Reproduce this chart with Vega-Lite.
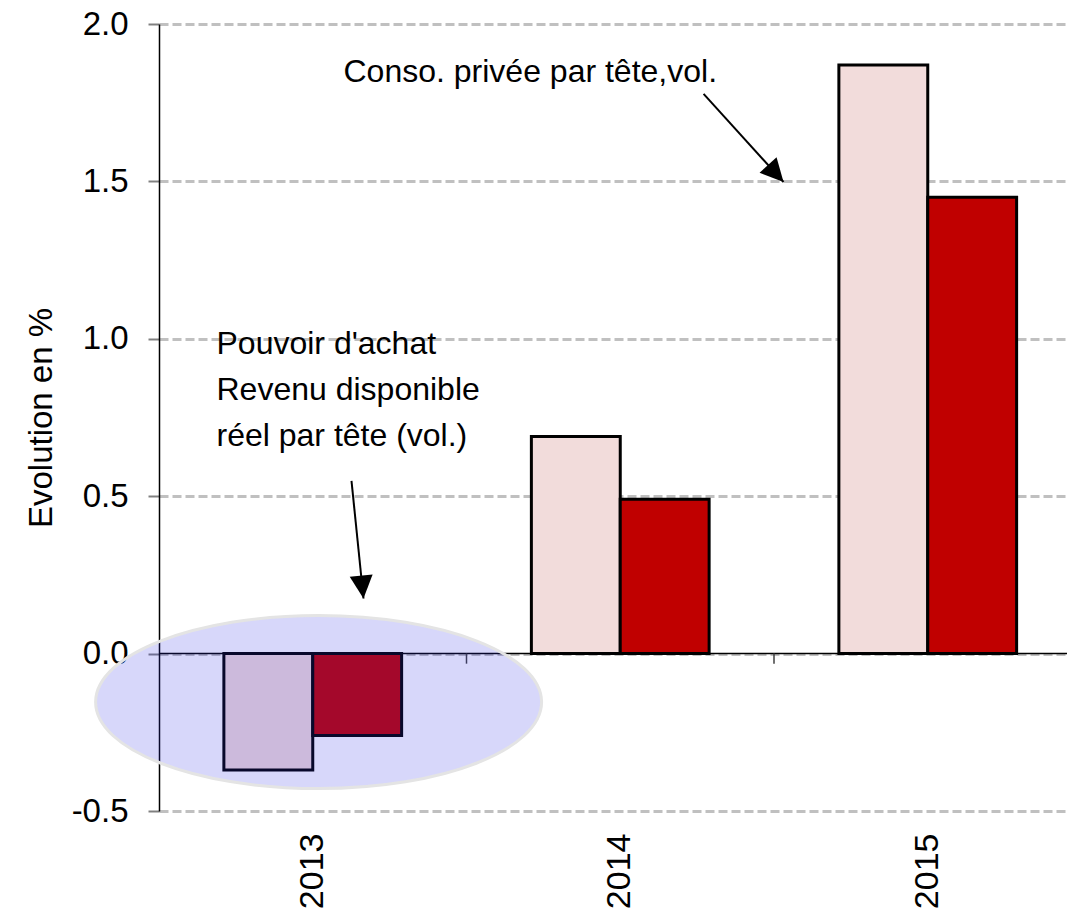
{
  "$schema": "https://vega.github.io/schema/vega-lite/v6.json",
  "width": 908,
  "height": 787,
  "padding": {"left": 25, "top": 8, "right": 0, "bottom": 0},
  "background": "white",
  "config": {"view": {"stroke": null}, "font": "Liberation Sans"},
  "datasets": {
    "bars": [
      {"year": "2013", "series": "Conso. privée par tête, vol.", "value": -0.37},
      {"year": "2013", "series": "Pouvoir d'achat", "value": -0.26},
      {"year": "2014", "series": "Conso. privée par tête, vol.", "value": 0.69},
      {"year": "2014", "series": "Pouvoir d'achat", "value": 0.49},
      {"year": "2015", "series": "Conso. privée par tête, vol.", "value": 1.87},
      {"year": "2015", "series": "Pouvoir d'achat", "value": 1.45}
    ],
    "zero": [{"value": 0}],
    "bandticks": [
      {"u": 1, "value": 0, "value2": -0.032},
      {"u": 2, "value": 0, "value2": -0.032}
    ],
    "ellipse": [{"u": 0.519, "value": -0.154}],
    "arrows": [
      {"u": 0.626, "value": 0.549, "u2": 0.665, "value2": 0.175, "angle": 174.2},
      {"u": 1.771, "value": 1.778, "u2": 2.031, "value2": 1.498, "angle": 137.7}
    ],
    "labels": [
      {"u": 0.187, "value": 0.952, "label": "Pouvoir d'achat"},
      {"u": 0.187, "value": 0.806, "label": "Revenu disponible"},
      {"u": 0.187, "value": 0.660, "label": "réel par tête (vol.)"},
      {"u": 0.600, "value": 1.816, "label": "Conso. privée par tête,vol."}
    ]
  },
  "encoding": {
    "y": {
      "field": "value",
      "type": "quantitative",
      "scale": {"domain": [-0.5, 2.0], "nice": false, "zero": false},
      "axis": {
        "title": "Evolution en %",
        "titleFontSize": 33,
        "titleFontWeight": "normal",
        "titleColor": "black",
        "titlePadding": 13,
        "values": [-0.5, 0, 0.5, 1, 1.5, 2],
        "labelExpr": "datum.value < 0 ? '-' + format(-datum.value, '.1f') : format(datum.value, '.1f')",
        "labelFontSize": 33,
        "labelColor": "black",
        "labelPadding": 20,
        "tickSize": 11,
        "tickColor": "#808080",
        "tickWidth": 2,
        "domainColor": "black",
        "domainWidth": 1.5,
        "grid": true,
        "gridColor": "#c0c0c0",
        "gridDash": [9, 4],
        "gridWidth": 3
      }
    }
  },
  "layer": [
    {
      "data": {"name": "bars"},
      "mark": {"type": "bar", "stroke": "black", "strokeWidth": 3, "strokeJoin": "miter"},
      "encoding": {
        "x": {
          "field": "year",
          "type": "nominal",
          "scale": {"range": [0, 922.5], "paddingInner": 0, "paddingOuter": 0},
          "axis": {
            "title": null,
            "labelAngle": -90,
            "labelFontSize": 34,
            "labelColor": "black",
            "domain": false,
            "ticks": false,
            "grid": false,
            "labelPadding": 22
          }
        },
        "xOffset": {
          "field": "series",
          "type": "nominal",
          "sort": ["Conso. privée par tête, vol.", "Pouvoir d'achat"],
          "scale": {"paddingOuter": 0.73, "paddingInner": 0}
        },
        "color": {
          "field": "series",
          "type": "nominal",
          "scale": {"domain": ["Conso. privée par tête, vol.", "Pouvoir d'achat"], "range": ["#f2dcdb", "#c00000"]},
          "legend": null
        }
      }
    },
    {
      "data": {"name": "zero"},
      "mark": {"type": "rule", "color": "black", "strokeWidth": 1.5},
      "encoding": {}
    },
    {
      "data": {"name": "bandticks"},
      "mark": {"type": "rule", "color": "#404040", "strokeWidth": 1.5},
      "encoding": {
        "x": {"field": "u", "type": "quantitative", "scale": {"domain": [0, 3], "range": [0, 922.5], "nice": false, "zero": false}, "axis": null},
        "y2": {"field": "value2"}
      }
    },
    {
      "data": {"name": "ellipse"},
      "mark": {
        "type": "point",
        "shape": "M -1 0 A 1 0.388 0 1 0 1 0 A 1 0.388 0 1 0 -1 0 Z",
        "size": 198916,
        "filled": true,
        "fill": "#2828e6",
        "fillOpacity": 0.19,
        "opacity": 1,
        "stroke": "#e4e4e4",
        "strokeOpacity": 1,
        "strokeWidth": 3
      },
      "encoding": {
        "x": {"field": "u", "type": "quantitative", "scale": {"domain": [0, 3], "range": [0, 922.5], "nice": false, "zero": false}, "axis": null}
      }
    },
    {
      "data": {"name": "arrows"},
      "mark": {"type": "rule", "color": "black", "strokeWidth": 2},
      "encoding": {
        "x": {"field": "u", "type": "quantitative", "scale": {"domain": [0, 3], "range": [0, 922.5], "nice": false, "zero": false}, "axis": null},
        "x2": {"field": "u2"},
        "y2": {"field": "value2"}
      }
    },
    {
      "data": {"name": "arrows"},
      "mark": {
        "type": "point",
        "shape": "M 0 0 L -0.5 1 L 0.5 1 Z",
        "size": 2116,
        "filled": true,
        "color": "black",
        "opacity": 1
      },
      "encoding": {
        "x": {"field": "u2", "type": "quantitative", "scale": {"domain": [0, 3], "range": [0, 922.5], "nice": false, "zero": false}, "axis": null},
        "y": {"field": "value2", "type": "quantitative"},
        "angle": {"field": "angle", "type": "quantitative", "scale": null}
      }
    },
    {
      "data": {"name": "labels"},
      "mark": {"type": "text", "align": "left", "baseline": "alphabetic", "fontSize": 32, "color": "black"},
      "encoding": {
        "x": {"field": "u", "type": "quantitative", "scale": {"domain": [0, 3], "range": [0, 922.5], "nice": false, "zero": false}, "axis": null},
        "text": {"field": "label"}
      }
    }
  ],
  "resolve": {"scale": {"x": "independent"}}
}
